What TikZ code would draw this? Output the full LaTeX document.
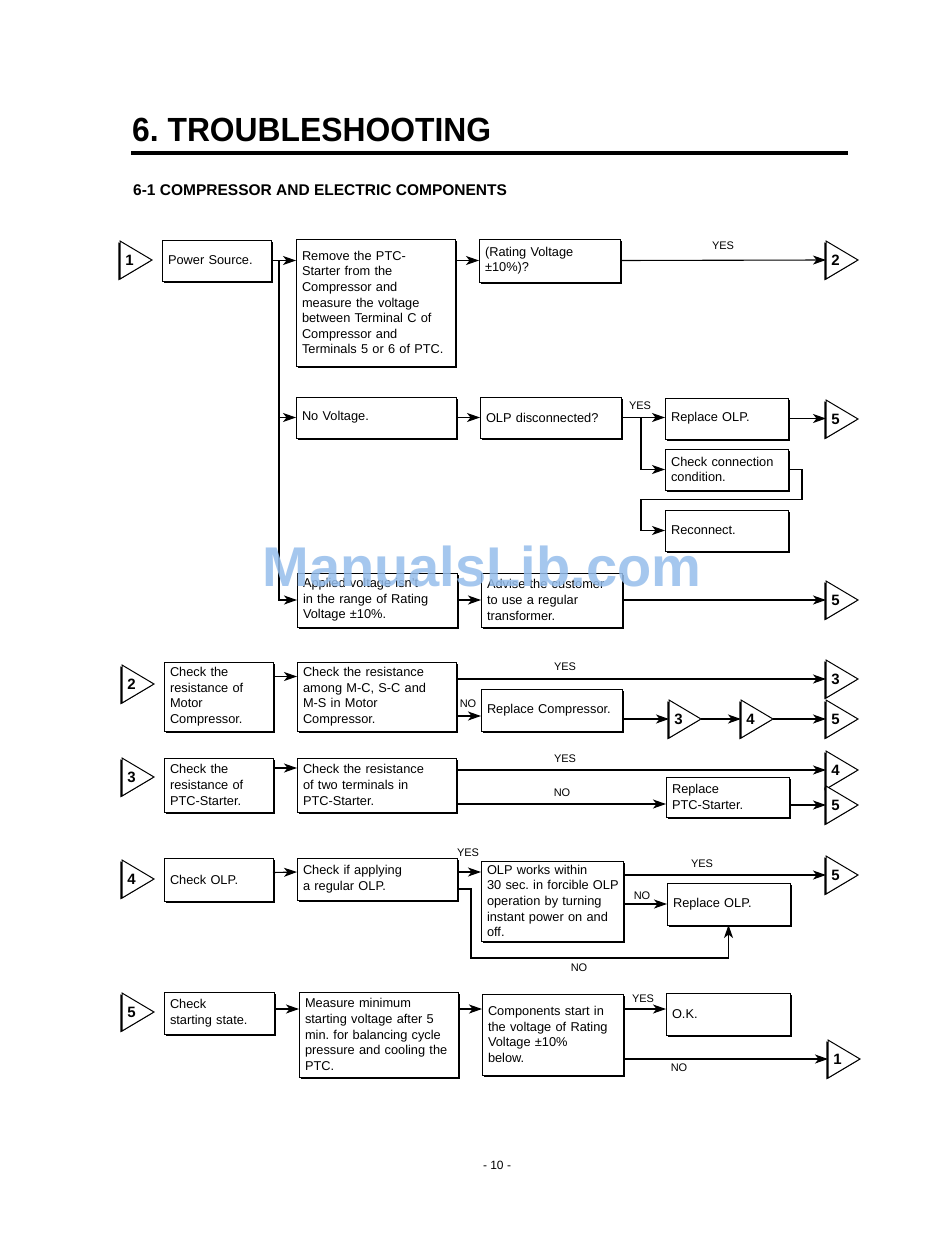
\documentclass[tikz,border=0pt]{standalone}
\usepackage{fontspec}
\usepackage{graphicx}
\setmainfont{Liberation Sans}
\usetikzlibrary{arrows.meta,shadows,calc}
\definecolor{wmblue}{RGB}{150,190,236}
\frenchspacing
\tikzset{
 bx/.style={draw, line width=0.9pt, fill=white, inner xsep=6pt, inner ysep=2pt, outer sep=0pt, align=left,
   font=\fontsize{12.8}{15.6}\selectfont\frenchspacing,
   drop shadow={shadow xshift=2.4pt, shadow yshift=-2.4pt, fill=black, opacity=1}},
 arr/.style={-{Stealth[length=13pt,width=9pt,inset=3.5pt]}, line width=1.1pt},
 lbl/.style={font=\fontsize{11}{13}\selectfont, inner sep=1pt},
 num/.style={font=\fontsize{15}{15}\selectfont\bfseries, inner sep=0pt},
 tri/.style={draw, line width=1pt, fill=white},
}
\newcommand\bx[6]{%
 \pgfmathsetmacro\bxtw{#4-11}%
 \node[bx, anchor=north west, text width=\bxtw pt, minimum width=#4pt, minimum height=#5pt] (#1) at (#2,#3) {#6};}
\newcommand\trig[4]{%
 \fill[black] (#2-1.6,#3-19+1.4) -- (#2+32-1.6,#3+1.4) -- (#2-1.6,#3+19+1.4) -- cycle;
 \draw[tri] (#2,#3-19) -- (#2+32,#3) -- (#2,#3+19) -- cycle;
 \node[num] (#1) at (#2+9.5,#3) {#4};
 \coordinate (#1w) at (#2,#3);
 \coordinate (#1e) at (#2+32,#3);}
\begin{document}
\begin{tikzpicture}[x=1pt,y=-1pt]
\useasboundingbox[fill=white] (0,0) rectangle (950,1241);
% header
\node[anchor=west, font=\fontsize{33.5}{36}\selectfont\bfseries, inner sep=0pt] (title) at (132,130) {\scalebox{0.95}[1]{6. TROUBLESHOOTING}};
\draw[line width=4pt] (131,153) -- (848,153);
\node[anchor=west, font=\fontsize{15.5}{18}\selectfont\bfseries, inner sep=0pt] (sub) at (133,190) {6-1 COMPRESSOR AND ELECTRIC COMPONENTS};

% ---- section 1
\trig{tAa}{120}{260}{1}
\bx{ps}{162}{240}{108}{41}{Power Source.}
\bx{rm}{296}{239}{158}{127}{Remove the PTC-\\Starter from the\\Compressor and\\measure the voltage\\between Terminal C of\\Compressor and\\Terminals 5 or 6 of PTC.}
\bx{rv}{479}{239}{140}{43}{(Rating Voltage\\±10\%)?}
\trig{tAb}{826}{260}{2}
\bx{nv}{296}{397}{159}{41}{No Voltage.}
\bx{od}{480}{397}{140}{41}{OLP disconnected?}
\bx{rolp}{665}{398}{122}{41}{Replace OLP.}
\trig{tAc}{826}{419}{5}
\bx{cc}{665}{449}{122}{41}{Check connection\\condition.}
\bx{rc}{665}{510}{122}{41}{Reconnect.}
\bx{av}{297}{573}{159}{54}{Applied voltage isn't\\in the range of Rating\\Voltage ±10\%.}
\bx{ad}{481}{573}{140}{54}{Advise the customer\\to use a regular\\transformer.}
\trig{tAd}{826}{600}{5}

\draw[arr] (ps.east) -- (rm.west |- ps.east);
\coordinate (j1) at ([xshift=8pt]ps.east);
\draw[arr] (j1) |- (nv.west);
\draw[arr] (j1) |- (av.west);
\draw[arr] (rm.east |- rv.west) -- (rv.west);
\draw[arr] (rv.east) -- (tAbw);
\node[lbl] (y1) at (723,246) {YES};
\draw[arr] (nv.east) -- (nv.east -| od.west);
\draw[arr] (od.east) -- (od.east -| rolp.west);
\node[lbl] (y2) at (640,406) {YES};
\draw[arr] (rolp.east) -- (rolp.east -| tAcw);
\coordinate (j2) at ([xshift=20pt]od.east);
\draw[arr] (j2) |- (cc.west);
\draw[arr] (cc.east) -- ++(14,0) -- ++(0,30) -| ([xshift=-24pt]rc.west) -- (rc.west);
\draw[arr] (av.east) -- (av.east -| ad.west);
\draw[arr] (ad.east) -- (ad.east -| tAdw);

% ---- section 2
\trig{tBa}{122}{684}{2}
\bx{ctwoa}{164}{662}{108}{69}{Check the\\resistance of\\Motor\\Compressor.}
\bx{ctwob}{297}{662}{158}{69}{Check the resistance\\among M-C, S-C and\\M-S in Motor\\Compressor.}
\bx{rcmp}{481}{689}{140}{42}{Replace Compressor.}
\trig{tBb}{826}{679}{3}
\trig{tBc}{669}{719}{3}
\trig{tBd}{741}{719}{4}
\trig{tBe}{826}{719}{5}
\draw[arr] ([yshift=20pt]ctwoa.east) -- ([yshift=20pt]ctwob.west);
\draw[arr] (ctwob.east |- tBbw) -- (tBbw);
\node[lbl] (y3) at (565,667) {YES};
\coordinate (nb) at ([yshift=-6pt]rcmp.west);
\draw[arr] (nb -| ctwob.east) -- (nb);
\node[lbl] (n1) at (468,704) {NO};
\draw[arr] (rcmp.east |- tBcw) -- (tBcw);
\draw[arr] (tBce) -- (tBdw);
\draw[arr] (tBde) -- (tBew);

% ---- section 3
\trig{tCa}{122}{777}{3}
\bx{cthra}{164}{758}{108}{54}{Check the\\resistance of\\PTC-Starter.}
\bx{cthrb}{297}{758}{158}{54}{Check the resistance\\of two terminals in\\PTC-Starter.}
\bx{rptc}{666}{777}{122}{40}{Replace\\PTC-Starter.}
\trig{tCb}{826}{770}{4}
\trig{tCc}{826}{805}{5}
\draw[arr] ([yshift=17pt]cthra.east) -- ([yshift=17pt]cthrb.west);
\draw[arr] (cthrb.east |- tCbw) -- (tCbw);
\node[lbl] (y4) at (565,759) {YES};
\coordinate (nc) at ([yshift=-7pt]rptc.west);
\draw[arr] (nc -| cthrb.east) -- (nc);
\node[lbl] (n2) at (562,793) {NO};
\draw[arr] (rptc.east |- tCcw) -- (tCcw);

% ---- section 4
\trig{tDa}{122}{879}{4}
\bx{cfa}{164}{858}{108}{43}{Check OLP.}
\bx{cfb}{297}{858}{159}{42}{Check if applying\\a regular OLP.}
\bx{ow}{481}{861}{141}{80}{OLP works within\\\mbox{30 sec. in forcible OLP}\\operation by turning\\instant power on and\\off.}
\bx{rolpb}{667}{883}{122}{42}{Replace OLP.}
\trig{tDb}{826}{875}{5}
\draw[arr] ([yshift=7pt]cfa.east) -- ([yshift=7pt]cfb.west);
\coordinate (r4) at ([yshift=7pt]cfb.east);
\draw[arr] (r4) -- (r4 -| ow.west);
\node[lbl] (y5) at (468,853) {YES};
\draw[arr] (ow.east |- tDbw) -- (tDbw);
\node[lbl] (y6) at (702,864) {YES};
\draw[arr] (ow.east |- rolpb.west) -- (rolpb.west);
\node[lbl] (n3) at (642,896) {NO};
\draw[arr] ([yshift=-10pt]cfb.east) -- ++(14,0) -- ++(0,69) -| (rolpb.south);
\node[lbl] (n4) at (579,968) {NO};

% ---- section 5
\trig{tEa}{122}{1012}{5}
\bx{cva}{164}{992}{109}{42}{Check\\starting state.}
\bx{cvb}{299}{992}{158}{85}{Measure minimum\\starting voltage after 5\\min. for balancing cycle\\pressure and cooling the\\PTC.}
\bx{cvc}{482}{994}{140}{81}{Components start in\\the voltage of Rating\\Voltage ±10\%\\below.}
\bx{ok}{666}{993}{123}{42}{O.K.}
\trig{tEb}{828}{1059}{1}
\coordinate (r5) at ([yshift=4pt]cva.east);
\draw[arr] (r5) -- (r5 -| cvb.west);
\draw[arr] (r5 -| cvb.east) -- (r5 -| cvc.west);
\draw[arr] (r5 -| cvc.east) -- (r5 -| ok.west);
\node[lbl] (y7) at (643,999) {YES};
\draw[arr] (cvc.east |- tEbw) -- (tEbw);
\node[lbl] (n5) at (679,1068) {NO};

% page number
\node[font=\fontsize{12}{14}\selectfont] (pg) at (497,1165) {- 10 -};
% watermark
\node[font=\fontsize{56}{60}\selectfont\bfseries, text=wmblue, opacity=0.85, inner sep=0pt] (wm) at (482,566) {ManualsLib.com};
\end{tikzpicture}
\end{document}
